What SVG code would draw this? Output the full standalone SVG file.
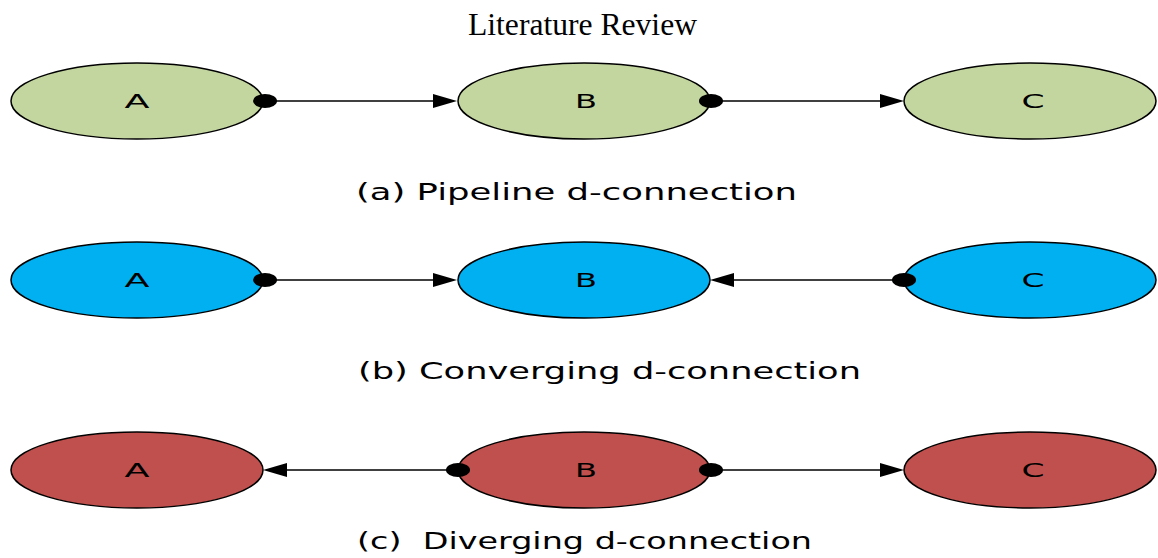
<svg xmlns="http://www.w3.org/2000/svg" width="1158" height="558" viewBox="0 0 1158 558">
<defs>
<style>
.n ellipse{stroke:#000;stroke-width:1.5}
.g{fill:#c4d6a0}.b{fill:#00b0f0}.r{fill:#c0504d}
.lbl{font-family:"DejaVu Sans",sans-serif;font-size:20px;fill:#000;text-anchor:middle}
.cap{font-family:"DejaVu Sans",sans-serif;font-size:23px;fill:#000}
.title{font-family:"Liberation Serif",serif;font-size:31px;fill:#000}
.e{stroke:#000;stroke-width:1.5;fill:none}
.dot{fill:#000}
.ah{fill:#000}
</style>
</defs>
<text class="title" x="468" y="35" textLength="229" lengthAdjust="spacingAndGlyphs">Literature Review</text>
<g id="row-a">
<g id="a-A" class="n"><ellipse class="g" cx="137" cy="101" rx="126" ry="38"/><text class="lbl" x="137" y="108" textLength="25" lengthAdjust="spacingAndGlyphs">A</text></g>
<g id="a-B" class="n"><ellipse class="g" cx="584" cy="101" rx="126" ry="38"/><text class="lbl" x="586" y="108" textLength="22" lengthAdjust="spacingAndGlyphs">B</text></g>
<g id="a-C" class="n"><ellipse class="g" cx="1030" cy="101" rx="126" ry="38"/><text class="lbl" x="1033" y="108" textLength="23" lengthAdjust="spacingAndGlyphs">C</text></g>
</g>
<g id="row-b">
<g id="b-A" class="n"><ellipse class="b" cx="137" cy="280" rx="126" ry="38"/><text class="lbl" x="137" y="287" textLength="25" lengthAdjust="spacingAndGlyphs">A</text></g>
<g id="b-B" class="n"><ellipse class="b" cx="584" cy="280" rx="126" ry="38"/><text class="lbl" x="586" y="287" textLength="22" lengthAdjust="spacingAndGlyphs">B</text></g>
<g id="b-C" class="n"><ellipse class="b" cx="1030" cy="280" rx="126" ry="38"/><text class="lbl" x="1033" y="287" textLength="23" lengthAdjust="spacingAndGlyphs">C</text></g>
</g>
<g id="row-c">
<g id="c-A" class="n"><ellipse class="r" cx="137" cy="470" rx="126" ry="38"/><text class="lbl" x="137" y="477" textLength="25" lengthAdjust="spacingAndGlyphs">A</text></g>
<g id="c-B" class="n"><ellipse class="r" cx="584" cy="470" rx="126" ry="38"/><text class="lbl" x="586" y="477" textLength="22" lengthAdjust="spacingAndGlyphs">B</text></g>
<g id="c-C" class="n"><ellipse class="r" cx="1030" cy="470" rx="126" ry="38"/><text class="lbl" x="1033" y="477" textLength="23" lengthAdjust="spacingAndGlyphs">C</text></g>
</g>
<g id="connectors">
<line class="e" x1="263" y1="101" x2="436" y2="101"/>
<ellipse class="dot" cx="265" cy="101" rx="12" ry="7"/>
<polygon class="ah" points="457,101 433,94 433,108"/>
<line class="e" x1="710" y1="101" x2="883" y2="101"/>
<ellipse class="dot" cx="711" cy="101" rx="12" ry="7"/>
<polygon class="ah" points="904,101 880,94 880,108"/>

<line class="e" x1="263" y1="280" x2="436" y2="280"/>
<ellipse class="dot" cx="265" cy="280" rx="12" ry="7"/>
<polygon class="ah" points="457,280 433,273 433,287"/>
<line class="e" x1="731" y1="280" x2="904" y2="280"/>
<ellipse class="dot" cx="904" cy="280" rx="12" ry="7"/>
<polygon class="ah" points="710,280 734,273 734,287"/>

<line class="e" x1="284" y1="470" x2="457" y2="470"/>
<ellipse class="dot" cx="458" cy="470" rx="12" ry="7"/>
<polygon class="ah" points="263,470 287,463 287,477"/>
<line class="e" x1="710" y1="470" x2="883" y2="470"/>
<ellipse class="dot" cx="711" cy="470" rx="12" ry="7"/>
<polygon class="ah" points="904,470 880,463 880,477"/>
</g>
<text class="cap" x="356" y="200" textLength="441" lengthAdjust="spacingAndGlyphs">(a) Pipeline d-connection</text>
<text class="cap" x="358" y="379" textLength="503" lengthAdjust="spacingAndGlyphs">(b) Converging d-connection</text>
<text class="cap" x="357" y="549" textLength="455" lengthAdjust="spacingAndGlyphs">(c)&#160; Diverging d-connection</text>
</svg>
